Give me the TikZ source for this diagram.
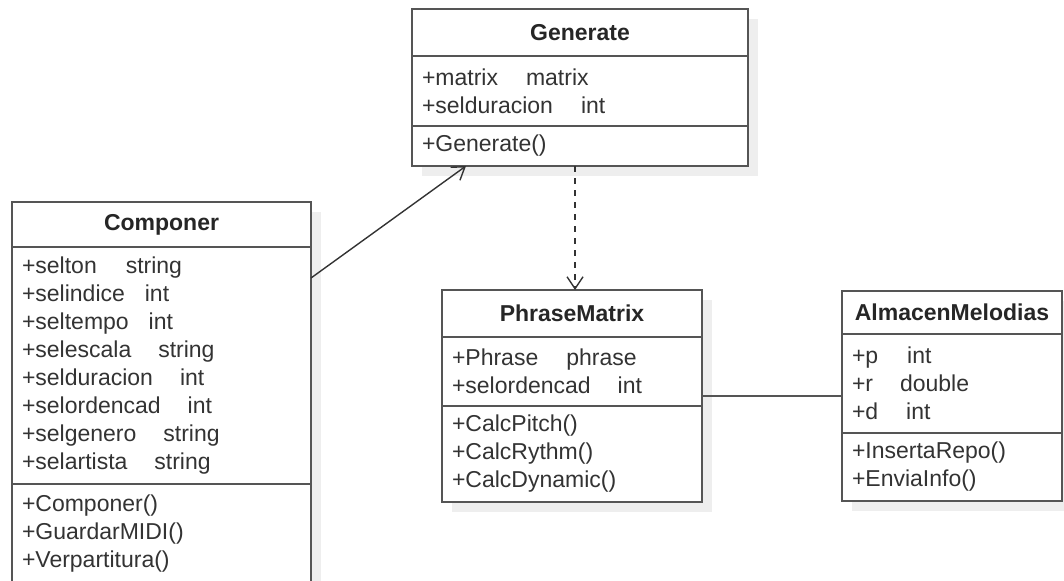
\documentclass[tikz,border=0pt]{standalone}
\usepackage{fontspec}
\setmainfont{Liberation Sans}
\usetikzlibrary{positioning,arrows.meta,backgrounds}
\definecolor{linegray}{HTML}{555555}
\definecolor{textgray}{HTML}{333333}
\definecolor{shadowgray}{HTML}{EEEEEE}

\tikzset{
  part/.style={draw=linegray, line width=1pt, fill=white, text=textgray,
    inner xsep=5pt, inner ysep=0pt, outer sep=0pt},
  head/.style={part, font=\fontsize{11.5}{14}\selectfont\bfseries, text=black!85, align=center},
  body/.style={part, align=left},
  assoc/.style={draw=black!80, line width=0.7pt, -{Straight Barb[length=6pt,width=8pt]}},
  dep/.style={assoc, dashed},
  link/.style={draw=linegray, line width=1pt},
  shade/.style={fill=shadowgray},
}

\begin{document}
\begin{tikzpicture}[x=0.5pt, y=-0.5pt, font=\fontsize{11.5}{14}\selectfont]
  \useasboundingbox (0,0) rectangle (1064,580);

  % Generate
  \node[head, text width=158pt, minimum height=23.5pt, anchor=north west] (gen) at (412,9) {Generate};
  \node[body, text width=158pt, minimum height=35pt, below=0pt of gen] (gen-a)
    {+matrix\hspace{14pt}matrix\\+selduracion\hspace{14pt}int};
  \node[body, text width=158pt, minimum height=20pt, below=0pt of gen-a] (gen-o) {+Generate()};

  % Componer
  \node[head, text width=139.5pt, minimum height=22.5pt, anchor=north west] (comp) at (12,202) {Componer};
  \node[body, text width=139.5pt, minimum height=118.5pt, below=0pt of comp] (comp-a)
    {+selton\hspace{14.5pt}string\\
     +selindice\hspace{10pt}int\\
     +seltempo\hspace{10pt}int\\
     +selescala\hspace{13.5pt}string\\
     +selduracion\hspace{13.5pt}int\\
     +selordencad\hspace{13.5pt}int\\
     +selgenero\hspace{13.5pt}string\\
     +selartista\hspace{13.5pt}string};
  \node[body, text width=139.5pt, minimum height=50pt, below=0pt of comp-a] (comp-o)
    {+Componer()\\+GuardarMIDI()\\+Verpartitura()};

  % PhraseMatrix
  \node[head, text width=120pt, minimum height=23.5pt, anchor=north west] (ph) at (442,290) {PhraseMatrix};
  \node[body, text width=120pt, minimum height=34.5pt, below=0pt of ph] (ph-a)
    {+Phrase\hspace{14pt}phrase\\+selordencad\hspace{13.5pt}int};
  \node[body, text width=120pt, minimum height=48pt, below=0pt of ph-a] (ph-o)
    {+CalcPitch()\\+CalcRythm()\\+CalcDynamic()};

  % AlmacenMelodias
  \node[head, text width=100pt, minimum height=21.5pt, anchor=north west] (alm) at (842,291) {AlmacenMelodias};
  \node[body, text width=100pt, minimum height=49.5pt, below=0pt of alm] (alm-a)
    {+p\hspace{14.5pt}int\\+r\hspace{13.5pt}double\\+d\hspace{14pt}int};
  \node[body, text width=100pt, minimum height=34pt, below=0pt of alm-a] (alm-o)
    {+InsertaRepo()\\+EnviaInfo()};

  % shadows
  \begin{scope}[on background layer]
    \fill[shade] ([shift={(10,10)}]gen.north west) rectangle ([shift={(10,10)}]gen-o.south east);
    \fill[shade] ([shift={(10,10)}]comp.north west) rectangle ([shift={(10,10)}]comp-o.south east);
    \fill[shade] ([shift={(10,10)}]ph.north west) rectangle ([shift={(10,10)}]ph-o.south east);
    \fill[shade] ([shift={(10,10)}]alm.north west) rectangle ([shift={(10,10)}]alm-o.south east);
  \end{scope}

  % relations
  \draw[assoc] ([yshift=-15.5pt]comp-a.north east) -- ([xshift=27pt]gen-o.south west);
  \draw[dep] ([xshift=-2.5pt]gen-o.south) -- ([xshift=-2.5pt]gen-o.south |- ph.north);
  \draw[link] ([yshift=-12pt]ph-a.east) coordinate (l) -- (l -| alm-a.west);
\end{tikzpicture}
\end{document}
